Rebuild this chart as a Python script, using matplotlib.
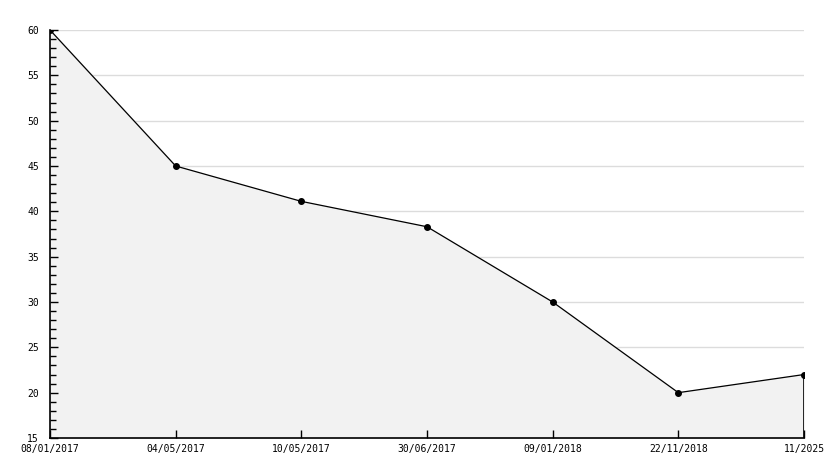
import matplotlib
matplotlib.use("Agg")
import matplotlib.pyplot as plt
from matplotlib.ticker import MultipleLocator

dates = ["08/01/2017", "04/05/2017", "10/05/2017", "30/06/2017",
         "09/01/2018", "22/11/2018", "11/2025"]
values = [60, 45, 41.1, 38.3, 30, 20, 22]

plt.rcParams['font.family'] = ['DejaVu Sans Mono']

fig = plt.figure(figsize=(8.34, 4.68), dpi=100)
ax = fig.add_axes([50/834, 1-438/468, 754/834, 408/468])

x = list(range(len(values)))
# grid lines under the fill
for g in range(20, 61, 5):
    ax.axhline(g, color='#dcdcdc', lw=1, zorder=0.2)
ax.fill_between(x, values, 15, color='#f2f2f2', zorder=0.5)
ax.plot(x, values, color='black', lw=0.9, marker='o', ms=4, zorder=3)
ax.plot([x[-1], x[-1]], [15, values[-1]], color='black', lw=1.2, zorder=3)

ax.set_xlim(0, len(values) - 1)
ax.set_ylim(15, 60)
ax.set_xticks(x)
ax.set_xticklabels(dates)
ax.yaxis.set_major_locator(MultipleLocator(5))
ax.yaxis.set_minor_locator(MultipleLocator(1))

for s in ['top', 'right']:
    ax.spines[s].set_visible(False)
for s in ['left', 'bottom']:
    ax.spines[s].set_linewidth(1.2)
    ax.spines[s].set_zorder(4)

ax.tick_params(axis='y', which='major', direction='in', length=6, width=1, labelsize=7, pad=8)
ax.tick_params(axis='y', which='minor', direction='in', length=4, width=1)
ax.tick_params(axis='x', direction='in', length=6, width=1, labelsize=7, pad=4)
for lbl in ax.get_yticklabels():
    lbl.set_verticalalignment('center_baseline')

fig.savefig('out.png', dpi=100)
